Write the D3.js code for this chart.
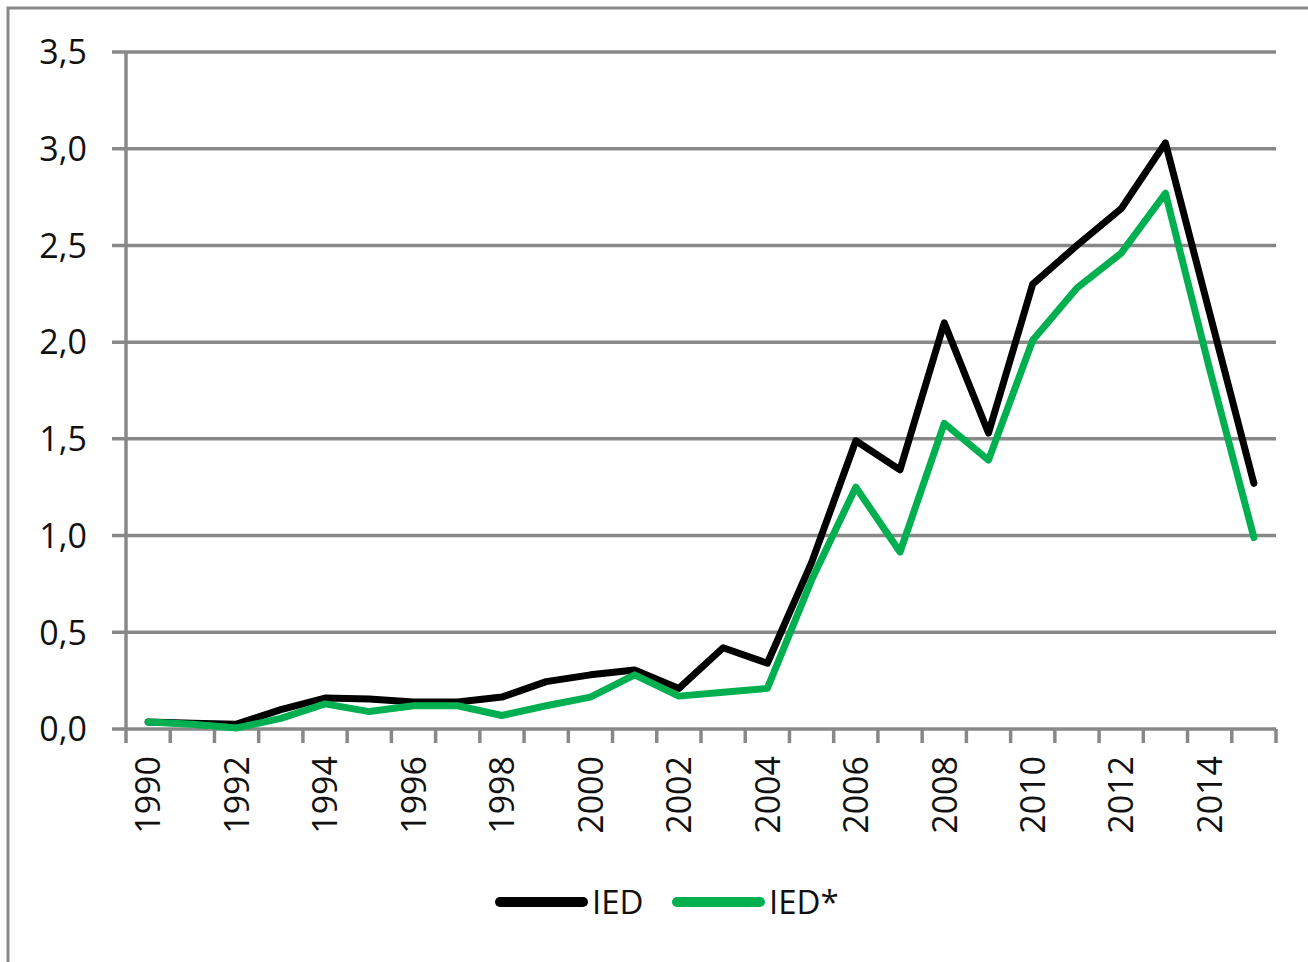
<!DOCTYPE html>
<html><head><meta charset="utf-8">
<script src="https://cdn.jsdelivr.net/npm/d3@7"></script>
<style>body{margin:0;background:#fff;}svg{display:block;}</style>
</head><body>
<script>
const years = d3.range(1990, 2016).map(String);
const ied = [0.036,0.03,0.025,0.10,0.16,0.155,0.14,0.14,0.165,0.245,0.28,0.305,0.21,0.42,0.34,0.86,1.49,1.34,2.10,1.53,2.30,2.50,2.69,3.03,2.15,1.27];
const iedStar = [0.036,0.025,0.005,0.055,0.13,0.09,0.12,0.12,0.07,0.12,0.165,0.28,0.17,0.19,0.21,0.77,1.25,0.915,1.58,1.39,2.01,2.28,2.46,2.77,1.86,0.99];
const yTicks = [0,0.5,1,1.5,2,2.5,3,3.5];
const seriesNames = ["IED","IED*"];
const seriesColors = ["#000000","#00B050"];

const W = 1308, H = 962;
const svg = d3.select("body").append("svg").attr("width", W).attr("height", H);
const font = "'Open Sans', sans-serif";

// outer frame
svg.append("rect").attr("x",8).attr("y",8).attr("width",W+20).attr("height",H+20)
  .attr("fill","none").attr("stroke","#888").attr("stroke-width",3);

const x = d3.scaleBand().domain(years).range([126,1276]);
const y = d3.scaleLinear().domain([0,3.5]).range([729,52]);

// gridlines
svg.append("g").selectAll("line").data(yTicks).join("line")
  .attr("x1",112).attr("x2",1276).attr("y1",d=>y(d)).attr("y2",d=>y(d))
  .attr("stroke","#888").attr("stroke-width",3.5);

// y axis line
svg.append("line").attr("x1",126).attr("x2",126).attr("y1",y(3.5)).attr("y2",743)
  .attr("stroke","#888").attr("stroke-width",3.5);

// x tick marks at band boundaries
const bounds = years.map(d=>x(d)).concat([x(years[years.length-1])+x.bandwidth()]);
svg.append("g").selectAll("line").data(bounds.slice(1)).join("line")
  .attr("x1",d=>d).attr("x2",d=>d).attr("y1",729).attr("y2",743)
  .attr("stroke","#888").attr("stroke-width",3.5);

// y labels
svg.append("g").selectAll("text").data(yTicks).join("text")
  .attr("x",87).attr("y",d=>y(d)).attr("dy","0.36em").attr("text-anchor","end")
  .attr("font-family",font).attr("font-size",34).attr("fill","#111")
  .text(d=>d.toFixed(1).replace(".",","));

// x labels
const cx = d=>x(d)+x.bandwidth()/2;
svg.append("g").selectAll("text").data(years.filter((d,i)=>i%2===0)).join("text")
  .attr("transform",d=>`translate(${cx(d)},756) rotate(-90)`)
  .attr("dy","0.36em").attr("text-anchor","end")
  .attr("font-family",font).attr("font-size",34).attr("fill","#111")
  .text(d=>d);

// lines
const line = d3.line().x((d,i)=>cx(years[i])).y(d=>y(d));
[ied, iedStar].forEach((s,k)=>{
  svg.append("path").datum(s).attr("d",line).attr("fill","none")
    .attr("stroke",seriesColors[k]).attr("stroke-width",7)
    .attr("stroke-linejoin","round").attr("stroke-linecap","round");
});

// legend
const leg = [{x1:500,x2:583,tx:592},{x1:677,x2:760,tx:769}];
leg.forEach((l,k)=>{
  svg.append("line").attr("x1",l.x1).attr("x2",l.x2).attr("y1",902).attr("y2",902)
    .attr("stroke",seriesColors[k]).attr("stroke-width",10).attr("stroke-linecap","round");
  svg.append("text").attr("x",l.tx).attr("y",902).attr("dy","0.36em")
    .attr("font-family",font).attr("font-size",33).attr("fill","#111")
    .text(seriesNames[k]);
});
</script>
</body></html>
